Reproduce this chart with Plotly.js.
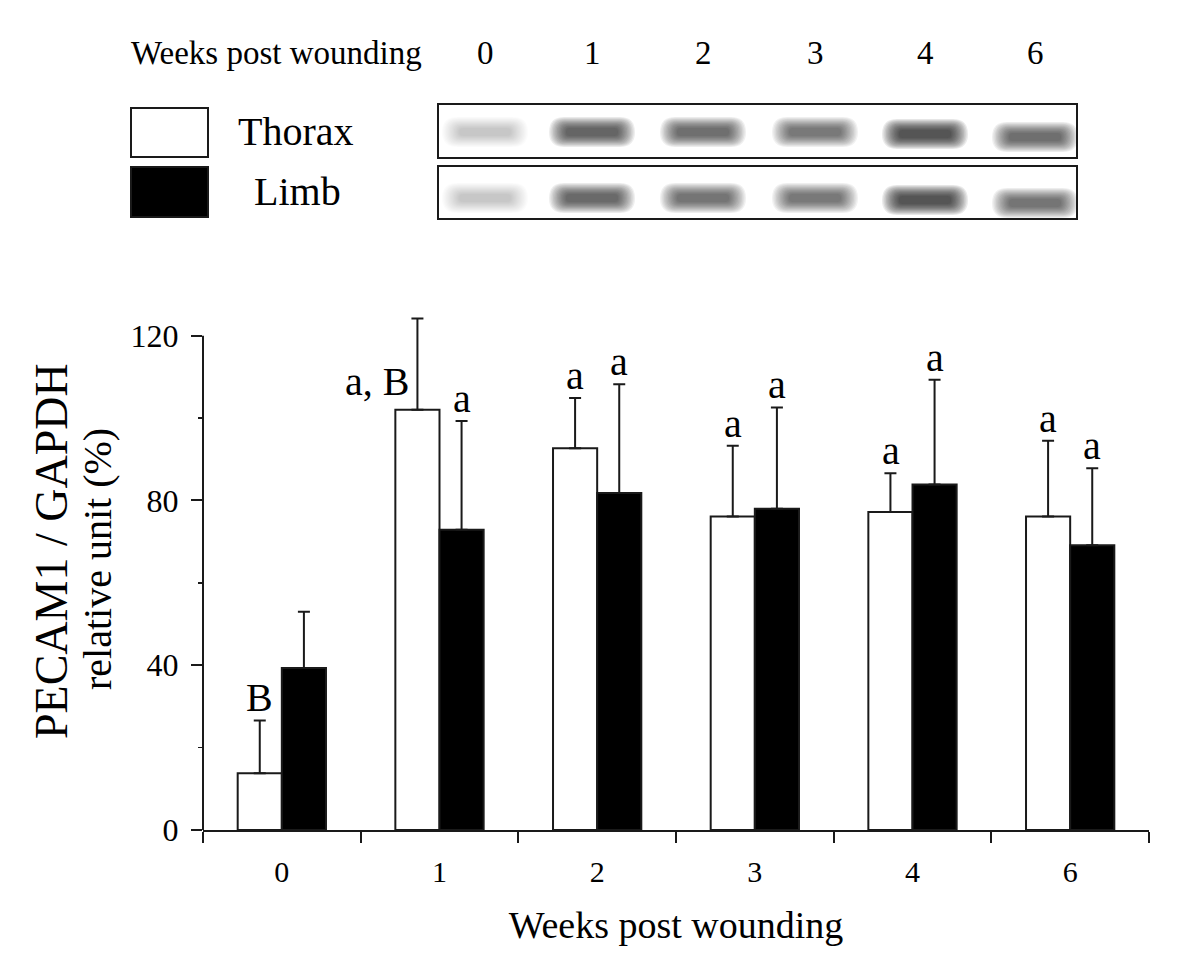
<!DOCTYPE html>
<html>
<head>
<meta charset="utf-8">
<script src="https://cdn.plot.ly/plotly-3.0.1.min.js"></script>
<style>
  html, body { margin: 0; padding: 0; background: #fff; }
  #chart { width: 1200px; height: 972px; }
</style>
</head>
<body>
<div id="chart"></div>
<script>
// ---------------- data ----------------
const weeks = ['0', '1', '2', '3', '4', '6'];
const thorax = [13.8, 102.0, 92.7, 76.1, 77.2, 76.1];
const thoraxErr = [12.8, 22.2, 12.2, 17.2, 9.4, 18.4];
const limb = [39.3, 72.9, 81.8, 78.0, 83.9, 69.1];
const limbErr = [13.7, 26.4, 26.4, 24.6, 25.4, 18.7];
const thoraxLetters = ['B', 'a, B', 'a', 'a', 'a', 'a'];
const limbLetters = ['', 'a', 'a', 'a', 'a', 'a'];
const yTickVals = [0, 40, 80, 120];
const yMinorVals = [20, 60, 100];
// relative band darkness in the blot panels (Thorax row, Limb row)
const gelThorax = [0.22, 0.66, 0.62, 0.55, 0.72, 0.62];
const gelLimb = [0.22, 0.64, 0.60, 0.54, 0.72, 0.60];

// ---------------- layout helpers (pixel -> paper) ----------------
const W = 1200, H = 972;
const M = { l: 203, r: 51, t: 311, b: 142 };
const PW = W - M.l - M.r, PH = H - M.t - M.b;
const px = x => (x - M.l) / PW;
const py = y => (H - M.b - y) / PH;
const FONT = 'Liberation Serif, Times New Roman, serif';
const INK = '#1a1a1a';

const shapes = [];
const annotations = [];

// y axis line (0..120)
shapes.push({ type: 'line', xref: 'paper', yref: 'y', x0: 0, x1: 0, y0: 0, y1: 120,
  line: { color: INK, width: 2 } });

// letters above bars (x given as category index)
const off = 22; // half bar width in px
weeks.forEach((w, i) => {
  const tl = thoraxLetters[i];
  if (tl) {
    if (tl.indexOf(',') >= 0) {
      annotations.push({ x: i, y: thorax[i], xref: 'x', yref: 'y', text: tl, showarrow: false,
        xanchor: 'right', yanchor: 'bottom', xshift: -off - 7, yshift: 4,
        font: { family: FONT, size: 40, color: '#000' } });
    } else {
      annotations.push({ x: i, y: thorax[i] + thoraxErr[i], xref: 'x', yref: 'y', text: tl, showarrow: false,
        xanchor: 'center', yanchor: 'bottom', xshift: -off, yshift: -2,
        font: { family: FONT, size: 40, color: '#000' } });
    }
  }
  const ll = limbLetters[i];
  if (ll) {
    annotations.push({ x: i, y: limb[i] + limbErr[i], xref: 'x', yref: 'y', text: ll, showarrow: false,
      xanchor: 'center', yanchor: 'bottom', xshift: off, yshift: -2,
      font: { family: FONT, size: 40, color: '#000' } });
  }
});

// y-axis title (two lines of different sizes)
annotations.push({ xref: 'paper', yref: 'paper', x: px(51), y: py(551), text: 'PECAM1 / GAPDH',
  textangle: -90, showarrow: false, xanchor: 'center', yanchor: 'middle',
  font: { family: FONT, size: 46, color: '#000' } });
annotations.push({ xref: 'paper', yref: 'paper', x: px(97), y: py(559), text: 'relative unit (%)',
  textangle: -90, showarrow: false, xanchor: 'center', yanchor: 'middle',
  font: { family: FONT, size: 40, color: '#000' } });

// ---------------- top panel: header, legend, blots ----------------
annotations.push({ xref: 'paper', yref: 'paper', x: px(129), y: py(53), text: 'Weeks post wounding',
  showarrow: false, xanchor: 'left', yanchor: 'middle', font: { family: FONT, size: 33, color: '#000' } });
const laneX = [485, 592, 703, 815, 925, 1035];
const laneDy = [0, 0, 0, 0, 2, 5];
weeks.forEach((w, i) => {
  annotations.push({ xref: 'paper', yref: 'paper', x: px(laneX[i]), y: py(53), text: w,
    showarrow: false, xanchor: 'center', yanchor: 'middle', font: { family: FONT, size: 33, color: '#000' } });
});

// legend boxes
shapes.push({ type: 'rect', xref: 'paper', yref: 'paper', x0: px(131), x1: px(208), y0: py(108), y1: py(157),
  fillcolor: '#fff', line: { color: INK, width: 2 } });
shapes.push({ type: 'rect', xref: 'paper', yref: 'paper', x0: px(131), x1: px(208), y0: py(167), y1: py(217),
  fillcolor: '#000', line: { color: INK, width: 2 } });
annotations.push({ xref: 'paper', yref: 'paper', x: px(296), y: py(132), text: 'Thorax',
  showarrow: false, xanchor: 'center', yanchor: 'middle', font: { family: FONT, size: 40, color: '#000' } });
annotations.push({ xref: 'paper', yref: 'paper', x: px(297), y: py(192), text: 'Limb',
  showarrow: false, xanchor: 'center', yanchor: 'middle', font: { family: FONT, size: 40, color: '#000' } });

// blurred bands
function pill(cx, cy, w, h) {
  const x0 = px(cx - w / 2), x1 = px(cx + w / 2);
  const r = h / 2;
  const xa = px(cx - w / 2 + r), xb = px(cx + w / 2 - r);
  const yt = py(cy - h / 2), yb = py(cy + h / 2), ym = py(cy);
  return `M${xa},${yt} L${xb},${yt} Q${x1},${yt} ${x1},${ym} Q${x1},${yb} ${xb},${yb} ` +
         `L${xa},${yb} Q${x0},${yb} ${x0},${ym} Q${x0},${yt} ${xa},${yt} Z`;
}
function band(cx, cy, intensity) {
  const L = 14;
  const a = 1 - Math.pow(1 - intensity, 1 / L);
  for (let k = 0; k < L; k++) {
    const t = k / (L - 1);
    const w = 86 - 34 * t;
    const h = 30 - 22 * t;
    shapes.push({ type: 'path', xref: 'paper', yref: 'paper', path: pill(cx, cy, w, h),
      fillcolor: 'rgba(25,25,25,' + a.toFixed(4) + ')', line: { width: 0 } });
  }
}
weeks.forEach((w, i) => {
  band(laneX[i], 132 + laneDy[i], gelThorax[i]);
  band(laneX[i], 198 + laneDy[i], gelLimb[i]);
});
// blot frames
shapes.push({ type: 'rect', xref: 'paper', yref: 'paper', x0: px(438), x1: px(1077), y0: py(104), y1: py(158),
  fillcolor: 'rgba(0,0,0,0)', line: { color: INK, width: 2 } });
shapes.push({ type: 'rect', xref: 'paper', yref: 'paper', x0: px(438), x1: px(1077), y0: py(166), y1: py(219),
  fillcolor: 'rgba(0,0,0,0)', line: { color: INK, width: 2 } });

// ---------------- traces ----------------
const zeros = weeks.map(() => 0);
const traces = [
  { type: 'bar', name: 'Thorax', x: weeks, y: thorax, showlegend: false,
    marker: { color: '#ffffff', line: { color: INK, width: 2 } },
    error_y: { type: 'data', symmetric: false, array: thoraxErr, arrayminus: zeros,
      color: INK, thickness: 2, width: 6 } },
  { type: 'bar', name: 'Limb', x: weeks, y: limb, showlegend: false,
    marker: { color: '#000000', line: { color: INK, width: 2 } },
    error_y: { type: 'data', symmetric: false, array: limbErr, arrayminus: zeros,
      color: INK, thickness: 2, width: 6 } }
];

const layout = {
  width: W, height: H,
  margin: M,
  paper_bgcolor: '#fff', plot_bgcolor: '#fff',
  font: { family: FONT, color: '#000' },
  barmode: 'group', bargap: 0.44, bargroupgap: 0,
  showlegend: false,
  xaxis: {
    type: 'category', categoryorder: 'array', categoryarray: weeks, range: [-0.5, 5.5], fixedrange: true,
    tickson: 'boundaries', ticks: 'outside', ticklen: 11, tickwidth: 2, tickcolor: INK,
    showline: true, linecolor: INK, linewidth: 2, showgrid: false, zeroline: false,
    ticklabelstandoff: 14,
    tickfont: { family: FONT, size: 30, color: '#000' },
    title: { text: 'Weeks post wounding', font: { family: FONT, size: 38, color: '#000' }, standoff: 24 }
  },
  yaxis: {
    range: [0, 126], tickmode: 'array', tickvals: yTickVals, ticktext: yTickVals.map(String),
    ticks: 'outside', ticklen: 11, tickwidth: 2, tickcolor: INK,
    showline: false, showgrid: false, zeroline: false, ticklabelstandoff: 6,
    tickfont: { family: FONT, size: 32, color: '#000' },
    minor: { tickmode: 'array', tickvals: yMinorVals, ticks: 'outside', ticklen: 4, tickwidth: 1.5, tickcolor: INK, showgrid: false }
  },
  shapes: shapes,
  annotations: annotations
};

Plotly.newPlot('chart', traces, layout, { displayModeBar: false, staticPlot: true });
</script>
</body>
</html>
